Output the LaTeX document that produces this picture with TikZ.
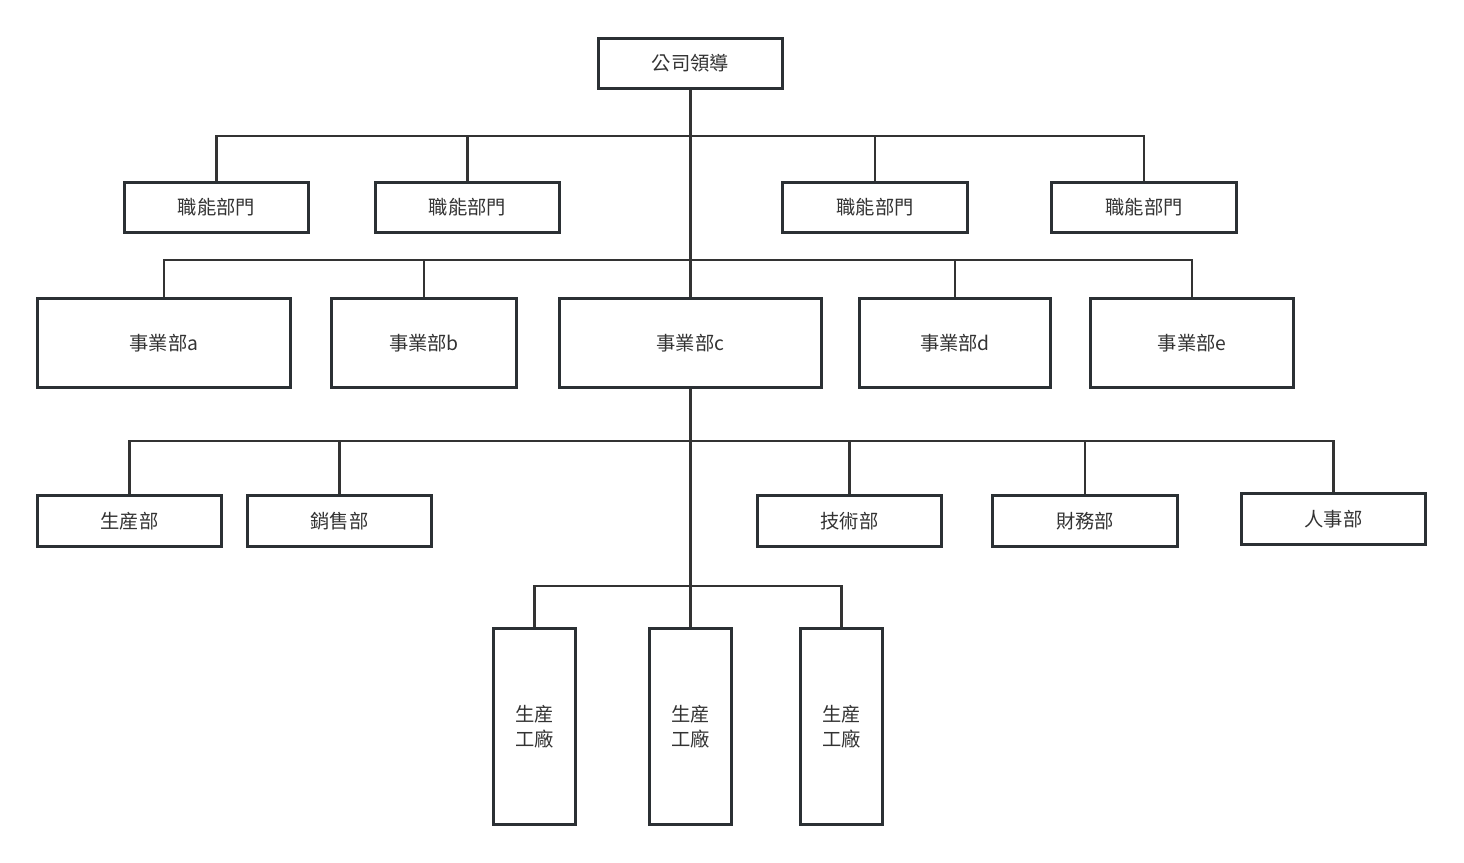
\documentclass[tikz,border=0pt]{standalone}
\usepackage{fontspec}
\setmainfont{Noto Sans CJK TC}
\definecolor{boxline}{HTML}{2B3034}
\definecolor{conn}{HTML}{333333}
\definecolor{txt}{HTML}{333333}
\tikzset{
  box/.style={draw=boxline, line width=2.6pt, fill=white, inner sep=0pt, text=txt,
    font=\fontsize{19.3}{25}\selectfont, align=center},
  link/.style={draw=conn, line width=2.2pt},
}
\begin{document}
\begin{tikzpicture}[x=1pt,y=-1pt]
\useasboundingbox (0,0) rectangle (1464,862);

% boxes
\node[box, minimum width=184pt, minimum height=50pt] (lead) at (690.5,63.5) {公司領導};

\node[box, minimum width=184pt, minimum height=50pt] (f1) at (216.5,207.5) {職能部門};
\node[box, minimum width=184pt, minimum height=50pt] (f2) at (467.5,207.5) {職能部門};
\node[box, minimum width=185pt, minimum height=50pt] (f3) at (875,207.5) {職能部門};
\node[box, minimum width=185pt, minimum height=50pt] (f4) at (1144,207.5) {職能部門};

\node[box, minimum width=253pt, minimum height=89pt] (da) at (164,343) {事業部a};
\node[box, minimum width=185pt, minimum height=89pt] (db) at (424,343) {事業部b};
\node[box, minimum width=262pt, minimum height=89pt] (dc) at (690.5,343) {事業部c};
\node[box, minimum width=191pt, minimum height=89pt] (dd) at (955,343) {事業部d};
\node[box, minimum width=203pt, minimum height=89pt] (de) at (1192,343) {事業部e};

\node[box, minimum width=184pt, minimum height=51pt] (p1) at (129.5,521) {生産部};
\node[box, minimum width=184pt, minimum height=51pt] (p2) at (339.5,521) {銷售部};
\node[box, minimum width=184pt, minimum height=51pt] (p3) at (849.5,521) {技術部};
\node[box, minimum width=185pt, minimum height=51pt] (p4) at (1085,521) {財務部};
\node[box, minimum width=184pt, minimum height=51pt] (p5) at (1333.5,519) {人事部};

\node[box, minimum width=82pt, minimum height=196pt] (g1) at (534.5,726.5) {生産\\工廠};
\node[box, minimum width=82pt, minimum height=196pt] (g2) at (690.5,726.5) {生産\\工廠};
\node[box, minimum width=82pt, minimum height=196pt] (g3) at (841.5,726.5) {生産\\工廠};

% bus line levels
\coordinate (busA) at (690,136);
\coordinate (busB) at (690,260);
\coordinate (busC) at (690,441);
\coordinate (busD) at (690,586);

% connectors
\draw[link] (lead.south) -- (dc.north);
\draw[link] (f1.north) |- (busA) -| (f4.north);
\draw[link] (f2.north) |- (busA) -| (f3.north);
\draw[link] (da.north) |- (busB) -| (de.north);
\draw[link] (db.north) |- (busB) -| (dd.north);
\draw[link] (dc.south) -- (g2.north);
\draw[link] (p1.north) |- (busC) -| (p5.north);
\draw[link] (p2.north) |- (busC) -| (p3.north);
\draw[link] (p4.north) |- (busC);
\draw[link] (g1.north) |- (busD) -| (g3.north);
\end{tikzpicture}
\end{document}
